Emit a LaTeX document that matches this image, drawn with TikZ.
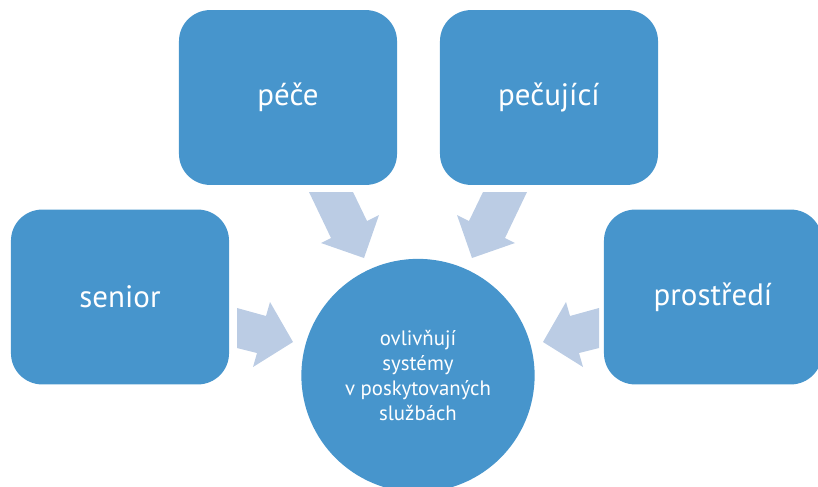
\documentclass[tikz,border=0pt]{standalone}
\usepackage{fontspec}
\setmainfont{PT Sans}
\usepackage{tikz}
\usetikzlibrary{positioning,calc}

\begin{document}
\begin{tikzpicture}[x=0.025cm, y=-0.025cm,
    factor/.style={rectangle, rounded corners=0.78cm, fill=boxBlue, text=white,
        inner sep=0pt, minimum width=5.45cm, minimum height=4.37cm,
        font=\fontsize{22}{26}\selectfont},
    hub/.style={circle, fill=boxBlue, text=white, inner sep=0pt,
        minimum size=5.83cm, align=center, font=\fontsize{14.8}{17.8}\selectfont},
    inflow/.style={fill=arrowBlue, draw=none}]

    % Define colors
    \definecolor{boxBlue}{RGB}{71, 149, 204}
    \definecolor{arrowBlue}{RGB}{187, 204, 228}

    % Page frame
    \useasboundingbox (0,0) rectangle (818,487);

    % === INFLOW ARROWS (mirrored about the hub) ===
    \foreach \s in {1,-1} {
        \begin{scope}[shift={(418,0)}, xscale=\s]
            % top arrow
            \fill[inflow] (-109,192) -- (-65,192) -- (-51,221) -- (-39,215)
                -- (-54,258) -- (-97,243) -- (-87,238) -- cycle;
            % side arrow
            \fill[inflow] (-181,308) -- (-152,316) -- (-148,302) -- (-125,342)
                -- (-165,367) -- (-161,353) -- (-181,348) -- cycle;
        \end{scope}
    }

    % === FACTORS ===
    \node[factor] (pece) at (288, 97.5) {péče};
    \node[factor] (pecujici) at (549, 97.5) {pečující};
    \node[factor] (senior) at (120, 297) {senior};
    \node[factor] (prostredi) at (713, 297) {prostředí};

    % === CENTRAL HUB ===
    \node[hub] (systemy) at (418, 375.5)
        {ovlivňují\\systémy\\v poskytovaných\\službách};

\end{tikzpicture}
\end{document}
